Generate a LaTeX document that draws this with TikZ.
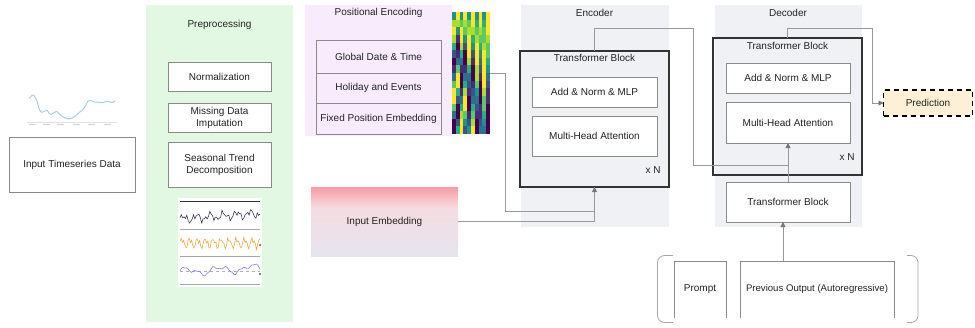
\documentclass[tikz,border=0pt]{standalone}
\usepackage{fontspec}
\setmainfont{Liberation Sans}
\usetikzlibrary{arrows.meta,calc}

\definecolor{txt}{HTML}{222222}
\definecolor{boxgray}{HTML}{8A8A8A}
\definecolor{linegray}{HTML}{999999}
\definecolor{tipgray}{HTML}{777777}
\definecolor{prepgreen}{HTML}{E3F8E2}
\definecolor{pelav}{HTML}{F8ECFC}
\definecolor{blockgray}{HTML}{EFF1F5}
\definecolor{predfill}{HTML}{FDF0D6}
\definecolor{embtop}{HTML}{FA9CA5}
\definecolor{embmid}{HTML}{F4DCE1}
\definecolor{embbot}{HTML}{E6E5EE}
\definecolor{chartblue}{HTML}{A9CFE2}
\definecolor{trendnavy}{HTML}{30304A}
\definecolor{seasorange}{HTML}{F2A33A}
\definecolor{residblue}{HTML}{7B7BE6}
% viridis steps for the positional-encoding map
\definecolor{vir0}{HTML}{440154}
\definecolor{vir1}{HTML}{472C7A}
\definecolor{vir2}{HTML}{3B528B}
\definecolor{vir3}{HTML}{2C728E}
\definecolor{vir4}{HTML}{21918C}
\definecolor{vir5}{HTML}{28AE80}
\definecolor{vir6}{HTML}{5EC962}
\definecolor{vir7}{HTML}{ADDC30}
\definecolor{vir8}{HTML}{FDE725}

\tikzset{
  base/.style={inner sep=0pt, outer sep=0pt, align=center, text=txt,
    font=\fontsize{10}{12}\selectfont},
  wbox/.style={base, draw=boxgray, line width=0.6pt, fill=white},
  obox/.style={base, draw=boxgray, line width=0.6pt},
  panel/.style={base, draw=none},
  tblock/.style={base, draw=black!80, line width=1.1pt},
  title/.style={base},
  wire/.style={draw=linegray, line width=0.9pt},
  arr/.style={wire, -{Triangle[length=5pt,width=5pt,color=tipgray]}},
}

\begin{document}
\begin{tikzpicture}[x=1pt,y=-1pt]
\useasboundingbox (0,0) rectangle (975,327);

% ---------- input series ----------
\draw[black!12, line width=0.4pt] (27,121.7) -- (117,121.7);
\foreach \tx in {29,43,57,73,88,104}
  \draw[black!18, line width=0.7pt] (\tx,124) -- ++(7,0);
\draw[chartblue, line width=1pt, rounded corners=1.5pt]
  (29.3,98.3) -- (33.3,94) -- (36.7,100) -- (40,111.7) -- (43.3,112.7) -- (46.7,109.3)
  -- (50,115) -- (53.3,113.3) -- (56.7,110.7) -- (60,115) -- (63.3,117.3) -- (66.7,118.3)
  -- (70,119.3) -- (73.3,117.3) -- (76.7,115) -- (80,111.7) -- (83.3,109.3) -- (86,105)
  -- (88.3,100) -- (91.7,100.7) -- (95,102.7) -- (98.3,101.7) -- (101.7,103.3)
  -- (105,101.7) -- (108.3,100.7) -- (111.7,103.3) -- (115,100.7);
\node[wbox, minimum width=126, minimum height=55] (inp) at (72,164.5) {Input Timeseries Data};

% ---------- preprocessing ----------
\node[panel, fill=prepgreen, minimum width=147, minimum height=317] (prep) at (219.5,163.5) {};
\node[title] (prepT) at (219.5,25) {Preprocessing};
\node[wbox, minimum width=103, minimum height=29] (norm) at (219.5,76.5) {Normalization};
\node[wbox, minimum width=103, minimum height=29] (miss) at (219.5,117.5) {Missing Data\\Imputation};
\node[wbox, minimum width=103, minimum height=45] (seas) at (219.5,164.5) {Seasonal Trend\\Decomposition};

% decomposition panels
\fill[white] (178,198) rectangle (262,287);
\draw[black!80, line width=0.8pt] (180,201.7) -- (260,201.7);
\draw[black!35, line width=0.8pt] (180,229.3) -- (260,229.3);
\draw[black!35, line width=0.8pt] (180,256.7) -- (260,256.7);
\draw[black!35, line width=0.8pt] (180,284) -- (260,284);
\draw[black!30, dashed, line width=0.5pt] (180,271.5) -- (260,271.5);
\draw[trendnavy, line width=0.55pt]
  plot[domain=0:80, samples=60] ({180+\x}, {219 - 2.8*sin(\x*27) - 2.2*sin(\x*61+30) - 1.5*sin(\x*113+10) - 0.07*\x});
\draw[seasorange, line width=0.55pt]
  plot[domain=0:80, samples=70] ({180+\x}, {243 - 4*sin(\x*46) - 2.2*sin(\x*92+40) - 1.3*sin(\x*131+15)});
\draw[residblue, line width=0.55pt]
  plot[domain=0:80, samples=50] ({180+\x}, {272 - 3*sin(\x*11+20) - 2*sin(\x*25) - 0.8*sin(\x*57) - 0.05*\x});
\fill[black] (260,245) circle (0.8);
\fill[black] (260,274) circle (0.8);

% ---------- positional encoding ----------
\node[panel, fill=pelav, minimum width=147, minimum height=131] (pe) at (378.5,70.5) {};
\node[title] (peT) at (378.5,13) {Positional Encoding};
\node[obox, minimum width=125, minimum height=33] (gdt) at (378.5,56.5) {Global Date \& Time};
\node[obox, minimum width=125, minimum height=30] (hol) at (378.5,88) {Holiday and Events};
\node[obox, minimum width=125, minimum height=31] (fix) at (378.5,118.5) {Fixed Position Embedding};

% sinusoidal position map: rows are positions, columns alternate sin / cos
\foreach \r in {0,...,15}{
  \foreach \c in {0,...,9}{
    \pgfmathsetmacro\fr{0.74^(int(\c/2))}
    \pgfmathsetmacro\ang{\r*0.75*\fr*57.29578}
    \pgfmathsetmacro\val{ifthenelse(mod(\c,2)==0, sin(\ang), cos(\ang))}
    \pgfmathtruncatemacro\idx{round((\val+1)*4)}
    \fill[fill=vir\idx] ({452+\c*3.8}, {12+\r*7.625}) rectangle ++(3.8,7.625);
  }
}
\node[panel, minimum width=38, minimum height=122] (heat) at (471,73) {};

% ---------- input embedding ----------
\shade[top color=embtop, bottom color=embmid] (311,187) rectangle (458,208);
\shade[top color=embmid, bottom color=embbot] (311,208) rectangle (458,256);
\node[panel, minimum width=147, minimum height=69] (emb) at (384.5,221.5) {Input Embedding};

% ---------- encoder ----------
\node[panel, fill=blockgray, minimum width=148, minimum height=222] (encP) at (594.5,116) {};
\node[title] (encT) at (594.5,13) {Encoder};
\node[tblock, minimum width=149, minimum height=136] (encTB) at (594.5,119) {};
\node[title] (encTBT) at (594.5,58) {Transformer Block};
\node[wbox, minimum width=125, minimum height=30] (encAdd) at (594.5,92) {Add \& Norm \& MLP};
\node[wbox, minimum width=125, minimum height=40] (encMHA) at (594.5,136) {Multi-Head Attention};
\node[title] (encN) at (653,170) {x N};

% ---------- decoder ----------
\node[panel, fill=blockgray, minimum width=147, minimum height=222] (decP) at (788.5,116) {};
\node[title] (decT) at (788,13) {Decoder};
\node[tblock, minimum width=149, minimum height=137] (decTB) at (787.5,106.5) {};
\node[title] (decTBT) at (787.5,46) {Transformer Block};
\node[wbox, minimum width=124, minimum height=30] (decAdd) at (788,78) {Add \& Norm \& MLP};
\node[wbox, minimum width=124, minimum height=41] (decMHA) at (788,122.5) {Multi-Head Attention};
\node[title] (decN) at (847,157) {x N};
\node[wbox, minimum width=124, minimum height=40] (decLow) at (788,202) {Transformer Block};

% ---------- prediction ----------
\node[base, draw=black, fill=predfill, line width=1.3pt, dash pattern=on 5pt off 4pt,
      minimum width=89, minimum height=26] (pred) at (928,103) {Prediction};

% ---------- decoder inputs ----------
\node[panel, minimum width=52, minimum height=57] (prompt) at (700,289.5) {Prompt};
\node[panel, minimum width=154, minimum height=57, font=\fontsize{9.6}{12}\selectfont]
  (prev) at (817,289.5) {Previous Output (Autoregressive)};
\draw[boxgray, line width=0.6pt] (prompt.south west) -- (prompt.north west) -- (prompt.north east) -- (prompt.south east);
\draw[boxgray, line width=0.6pt] (prev.south west) -- (prev.north west) -- (prev.north east) -- (prev.south east);
\draw[black!35, line width=0.8pt, rounded corners=7pt] (673,255.5) -- (657.5,255.5) -- (657.5,322.5) -- (673,322.5);
\draw[black!35, line width=0.8pt, rounded corners=7pt] (907,255.5) -- (918,255.5) -- (918,322.5) -- (907,322.5);

% ---------- connectors ----------
\coordinate (hj) at (505,211);
\coordinate (c1) at (693,28);
\coordinate (c2) at (693,165);
\coordinate (c3) at (872,28);
\draw[wire] (heat.east) -| (hj) -| (encTB.south);
\draw[arr] (emb.east) -| (encTB.south);
\draw[wire] (encTB.north) |- (c1) -- (c2) -- (c2 -| decMHA.south);
\draw[arr] (decLow.north) -- (decMHA.south);
\draw[arr] (decTB.north) |- (c3) |- (pred.west);
\draw[arr] ([xshift=-5pt]decLow.south |- prev.north) -- ([xshift=-5pt]decLow.south);
\end{tikzpicture}
\end{document}
